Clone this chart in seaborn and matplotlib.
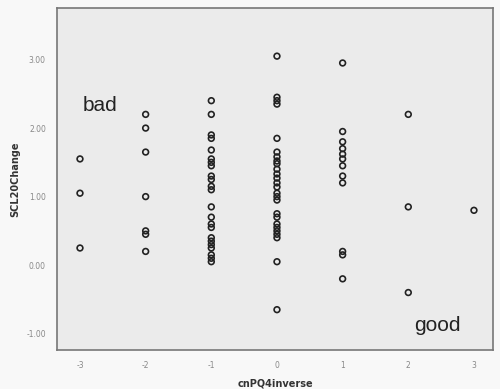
import matplotlib
matplotlib.use("Agg")
import matplotlib.pyplot as plt
import seaborn as sns
import pandas as pd

# Data
col_m3 = [1.55, 1.05, 0.25]
col_m2 = [2.20, 2.00, 1.65, 1.00, 0.50, 0.45, 0.20]
col_m1 = [2.40, 2.20, 1.90, 1.85, 1.68, 1.55, 1.50, 1.45, 1.30, 1.25, 1.15, 1.10,
          0.85, 0.70, 0.60, 0.55, 0.40, 0.35, 0.30, 0.25, 0.15, 0.10, 0.05]
col_0 = [3.05, 2.45, 2.40, 2.35, 1.85, 1.65, 1.58, 1.52, 1.48, 1.40, 1.33, 1.27,
         1.20, 1.14, 1.05, 1.00, 0.95, 0.75, 0.70, 0.60, 0.55, 0.50, 0.45, 0.40,
         0.05, -0.65]
col_1 = [2.95, 1.95, 1.80, 1.70, 1.62, 1.55, 1.45, 1.30, 1.20, 0.20, 0.15, -0.20]
col_2 = [2.20, 0.85, -0.40]
col_3 = [0.80]

x_values = [-3, -2, -1, 0, 1, 2, 3]
columns = [col_m3, col_m2, col_m1, col_0, col_1, col_2, col_3]
x_ticks = [-3, -2, -1, 0, 1, 2, 3]
y_ticks = [-1.0, 0.0, 1.0, 2.0, 3.0]
y_tick_labels = ["-1.00", "0.00", "1.00", "2.00", "3.00"]

rows = []
for xv, col in zip(x_values, columns):
    for yv in col:
        rows.append({"cnPQ4inverse": xv, "SCL20Change": yv})
df = pd.DataFrame(rows)

sns.set_style("white")
fig = plt.figure(figsize=(5.0, 3.89), dpi=100, facecolor="#f8f8f8")
ax = fig.add_axes([0.114, 0.100, 0.872, 0.879])
ax.set_facecolor("#ebebeb")

sns.scatterplot(data=df, x="cnPQ4inverse", y="SCL20Change", ax=ax,
                marker="o", s=17, facecolor="none", edgecolor="#222222",
                linewidth=1.2)

ax.set_xlim(-3.35, 3.29)
ax.set_ylim(-1.24, 3.75)
ax.set_xticks(x_ticks)
ax.set_xticklabels([str(t) for t in x_ticks])
ax.set_yticks(y_ticks)
ax.set_yticklabels(y_tick_labels)
ax.tick_params(axis="both", direction="out", length=5, width=1.2,
               color="#555555", labelsize=5.5, labelcolor="#888888", pad=3)
for sp in ax.spines.values():
    sp.set_color("#777777")
    sp.set_linewidth(1.2)

ax.set_xlabel("cnPQ4inverse", fontsize=7, fontweight="bold", color="#333333",
              labelpad=6)
ax.set_ylabel("SCL20Change", fontsize=7, fontweight="bold", color="#333333",
              labelpad=4)

ax.text(-2.70, 2.33, "bad", fontsize=15, color="#222222", va="center",
        ha="center", family="Liberation Sans")
ax.text(2.44, -0.88, "good", fontsize=15, color="#222222", va="center",
        ha="center", family="Liberation Sans")

fig.savefig("out.png", dpi=100, facecolor=fig.get_facecolor())
